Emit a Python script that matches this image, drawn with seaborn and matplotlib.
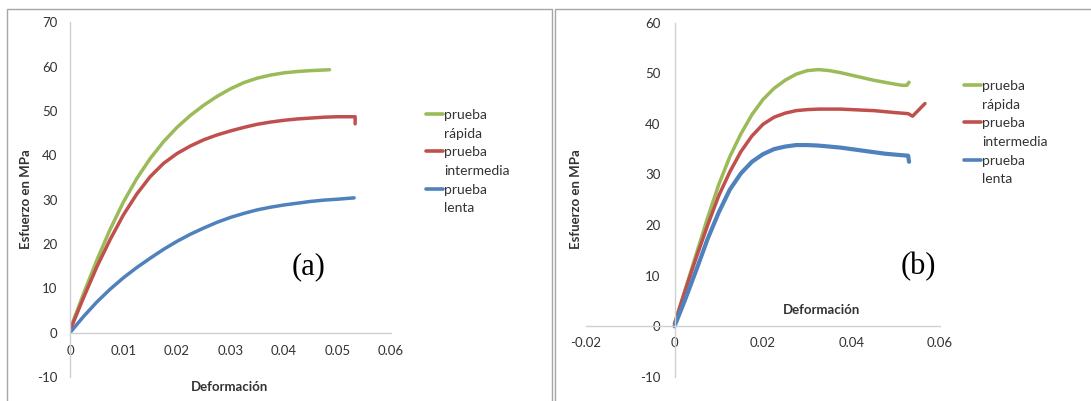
import numpy as np
import pandas as pd
import matplotlib
matplotlib.use("Agg")
import matplotlib.pyplot as plt
import seaborn as sns
from matplotlib.lines import Line2D
from matplotlib.patches import Rectangle

# ---- data ----
# panel (a)
a_rapida_x = [0, 0.0025, 0.005, 0.0075, 0.01, 0.0125, 0.015, 0.0175, 0.02, 0.0225, 0.025,
              0.0275, 0.03, 0.0325, 0.035, 0.0375, 0.04, 0.0425, 0.045, 0.0485]
a_rapida_y = [0.7, 8.7, 16.3, 23.3, 29.5, 34.8, 39.3, 43.1, 46.3, 49.0, 51.3,
              53.3, 55.0, 56.4, 57.4, 58.1, 58.6, 58.9, 59.1, 59.3]

a_inter_x = [0, 0.0025, 0.005, 0.0075, 0.01, 0.0125, 0.015, 0.0175, 0.02, 0.0225, 0.025,
             0.0275, 0.03, 0.0325, 0.035, 0.0375, 0.04, 0.0425, 0.045, 0.0475, 0.05, 0.0533, 0.0533]
a_inter_y = [0.5, 7.8, 14.8, 21.0, 26.6, 31.3, 35.2, 38.2, 40.4, 42.1, 43.5,
             44.6, 45.5, 46.3, 47.0, 47.5, 47.9, 48.2, 48.4, 48.6, 48.7, 48.7, 47.1]

a_lenta_x = [0, 0.0025, 0.005, 0.0075, 0.01, 0.0125, 0.015, 0.0175, 0.02, 0.0225, 0.025,
             0.0275, 0.03, 0.0325, 0.035, 0.0375, 0.04, 0.0425, 0.045, 0.0475, 0.05, 0.0531]
a_lenta_y = [0, 3.6, 6.9, 9.8, 12.4, 14.7, 16.8, 18.8, 20.6, 22.2, 23.6,
             24.9, 26.0, 26.9, 27.7, 28.3, 28.8, 29.2, 29.6, 29.9, 30.1, 30.4]

# panel (b)
b_rapida_x = [0, 0.0025, 0.005, 0.0075, 0.01, 0.0125, 0.015, 0.0175, 0.02, 0.0225, 0.025,
              0.0275, 0.03, 0.0325, 0.035, 0.0375, 0.04, 0.0425, 0.045, 0.0475, 0.05,
              0.0515, 0.0525, 0.053]
b_rapida_y = [0.5, 7.5, 14.5, 21.5, 28.0, 33.5, 38.0, 41.8, 44.8, 47.0, 48.6,
              49.8, 50.5, 50.7, 50.5, 50.1, 49.6, 49.1, 48.6, 48.2, 47.8,
              47.6, 47.6, 48.2]

b_inter_x = [0, 0.0025, 0.005, 0.0075, 0.01, 0.0125, 0.015, 0.0175, 0.02, 0.0225, 0.025,
             0.0275, 0.03, 0.0325, 0.035, 0.0375, 0.04, 0.0425, 0.045, 0.0475, 0.05,
             0.0528, 0.0538, 0.0566]
b_inter_y = [0.5, 7.3, 13.8, 20.0, 25.8, 30.5, 34.5, 37.6, 39.9, 41.3, 42.1,
             42.6, 42.8, 42.9, 42.9, 42.9, 42.8, 42.7, 42.6, 42.4, 42.2,
             42.0, 41.5, 44.0]

b_lenta_x = [0, 0.0025, 0.005, 0.0075, 0.01, 0.0125, 0.015, 0.0175, 0.02, 0.0225, 0.025,
             0.0275, 0.03, 0.0325, 0.035, 0.0375, 0.04, 0.0425, 0.045, 0.0475, 0.05,
             0.0528, 0.053]
b_lenta_y = [0, 5.5, 11.3, 17.3, 22.5, 27.0, 30.2, 32.5, 34.0, 35.0, 35.5,
             35.8, 35.8, 35.7, 35.5, 35.3, 35.0, 34.7, 34.4, 34.1, 33.9,
             33.7, 32.5]

SERIES = ["rápida", "intermedia", "lenta"]
COLORS = {"rápida": "#9BBB59", "intermedia": "#C0504D", "lenta": "#4F81BD"}
LEGEND_TXT = ["prueba", "rápida", "prueba", "intermedia", "prueba", "lenta"]

def to_long(parts):
    frames = []
    for name, xs, ys in parts:
        frames.append(pd.DataFrame({"Deformación": xs, "Esfuerzo": ys, "serie": name}))
    return pd.concat(frames, ignore_index=True)

df_a = to_long([("rápida", a_rapida_x, a_rapida_y),
                ("intermedia", a_inter_x, a_inter_y),
                ("lenta", a_lenta_x, a_lenta_y)])
df_b = to_long([("rápida", b_rapida_x, b_rapida_y),
                ("intermedia", b_inter_x, b_inter_y),
                ("lenta", b_lenta_x, b_lenta_y)])

# ---- style ----
sns.set_theme(style="white")
plt.rcParams["font.family"] = ["Lato", "DejaVu Sans"]
plt.rcParams["axes.unicode_minus"] = False
TXT = "#333333"
AXC = "#D0D0D0"
W, H = 1091, 401

fig = plt.figure(figsize=(W / 100, H / 100), dpi=100)

def px_axes(x0, y0, x1, y1):
    return fig.add_axes([x0 / W, 1 - y1 / H, (x1 - x0) / W, (y1 - y0) / H])

ax_a = px_axes(70, 22.3, 391, 377)
ax_b = px_axes(586, 22.5, 940, 377)

for ax, df in [(ax_a, df_a), (ax_b, df_b)]:
    sns.lineplot(data=df, x="Deformación", y="Esfuerzo", hue="serie", hue_order=SERIES,
                 palette=COLORS, sort=False, estimator=None, lw=2.5, legend=False, ax=ax)
    ax.set_xlabel("")
    ax.set_ylabel("")
    ax.set_facecolor("none")
    for s in ["top", "right"]:
        ax.spines[s].set_visible(False)
    for s in ["left", "bottom"]:
        ax.spines[s].set_color(AXC)
        ax.spines[s].set_linewidth(1.0)
        ax.spines[s].set_position(("data", 0))

# the slow test in (b) is drawn a little heavier
ax_b.get_lines()[2].set_linewidth(3.0)

# panel (a) axes
ax_a.set_xlim(0, 0.06)
ax_a.set_ylim(-10, 70)
ax_a.set_xticks([0, 0.01, 0.02, 0.03, 0.04, 0.05, 0.06])
ax_a.set_xticklabels(["0", "0.01", "0.02", "0.03", "0.04", "0.05", "0.06"])
ax_a.set_yticks(np.arange(-10, 71, 10))
ax_a.tick_params(axis="both", length=0, labelsize=9.5, colors=TXT)
ax_a.tick_params(axis="x", pad=9)
ax_a.tick_params(axis="y", pad=9)

# panel (b) axes
ax_b.set_xlim(-0.02, 0.06)
ax_b.set_ylim(-10, 60)
ax_b.set_xticks([-0.02, 0, 0.02, 0.04, 0.06])
ax_b.set_xticklabels(["-0.02", "0", "0.02", "0.04", "0.06"])
ax_b.set_yticks(np.arange(-10, 61, 10))
ax_b.tick_params(axis="x", direction="inout", length=4, width=1, color=AXC,
                 labelsize=9.5, labelcolor=TXT, pad=6)
ax_b.tick_params(axis="y", direction="out", length=4, width=1, color=AXC,
                 labelsize=9.5, labelcolor=TXT, pad=6)

# axis titles
fig.text(26 / W, 1 - 199 / H, "Esfuerzo en MPa", rotation=90, ha="center", va="center",
         fontsize=9.5, weight="bold", color=TXT)
fig.text(230 / W, 1 - 387 / H, "Deformación", ha="center", va="center",
         fontsize=9.5, weight="bold", color=TXT)
fig.text(576 / W, 1 - 199 / H, "Esfuerzo en MPa", rotation=90, ha="center", va="center",
         fontsize=9.5, weight="bold", color=TXT)
fig.text(822 / W, 1 - 310 / H, "Deformación", ha="center", va="center",
         fontsize=9.5, weight="bold", color=TXT)

# panel tags
fig.text(309 / W, 1 - 267 / H, "(a)", ha="center", va="center", fontsize=22,
         family="Liberation Serif", color="black")
fig.text(918 / W, 1 - 267 / H, "(b)", ha="center", va="center", fontsize=22,
         family="Liberation Serif", color="black")

# legends (one row per text line, line marker on the first line of each entry)
def make_legend(ax, x_px, y_px):
    handles = []
    for name in SERIES:
        handles.append(Line2D([], [], color=COLORS[name], lw=2.6))
        handles.append(Line2D([], [], color="none", lw=0))
    leg = ax.legend(handles, LEGEND_TXT, loc="upper left",
                    bbox_to_anchor=(x_px / W, 1 - y_px / H), bbox_transform=fig.transFigure,
                    frameon=False, fontsize=10, handlelength=1.2, handletextpad=0.1,
                    labelspacing=0.48, borderpad=0, borderaxespad=0)
    for t in leg.get_texts():
        t.set_color(TXT)
    return leg

make_legend(ax_a, 426, 109)
make_legend(ax_b, 964, 80)

# panel frames
fig.patches.append(Rectangle((7 / W, -0.1), (552 - 7) / W, 1.1 - 9 / H, transform=fig.transFigure,
                             fill=False, edgecolor="#A6A6A6", lw=1))
fig.patches.append(Rectangle((555 / W, -0.1), (W + 5 - 555) / W, 1.1 - 9 / H,
                             transform=fig.transFigure, fill=False, edgecolor="#A6A6A6", lw=1))

fig.savefig("out.png", dpi=100, facecolor="white")
